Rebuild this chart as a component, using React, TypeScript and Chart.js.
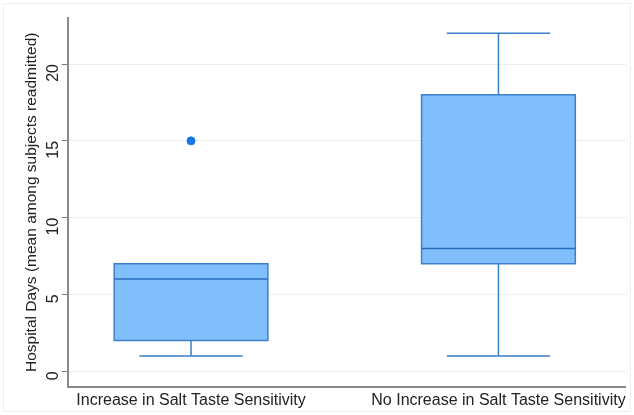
import React, { useEffect, useRef } from 'react';
import { Chart, registerables } from 'chart.js';

Chart.register(...registerables);

const categories = ['Increase in Salt Taste Sensitivity', 'No Increase in Salt Taste Sensitivity'];
const whiskerLow = [1, 1];
const q1 = [2, 7];
const median = [6, 8];
const q3 = [7, 18];
const whiskerHigh = [7, 22];
const outlierX = [0];
const outlierY = [15];
const yTicks = [0, 5, 10, 15, 20];

const BOX_HALF = 0.25;
const CAP_HALF = 0.168;

const boxPlugin = {
  id: 'boxes',
  beforeDatasetsDraw(chart: any) {
    const { ctx, scales } = chart;
    const xs = scales.x;
    const ys = scales.y;
    ctx.save();
    categories.forEach((_, i) => {
      const xc = xs.getPixelForValue(i);
      const xl = xs.getPixelForValue(i - BOX_HALF);
      const xr = xs.getPixelForValue(i + BOX_HALF);
      const cl = xs.getPixelForValue(i - CAP_HALF);
      const cr = xs.getPixelForValue(i + CAP_HALF);
      const yq1 = ys.getPixelForValue(q1[i]);
      const yq3 = ys.getPixelForValue(q3[i]);
      const ymed = ys.getPixelForValue(median[i]);
      const ylo = ys.getPixelForValue(whiskerLow[i]);
      const yhi = ys.getPixelForValue(whiskerHigh[i]);
      ctx.strokeStyle = 'rgb(58,126,200)';
      ctx.lineWidth = 1.5;
      ctx.beginPath();
      if (whiskerHigh[i] > q3[i]) {
        ctx.moveTo(xc, yq3);
        ctx.lineTo(xc, yhi);
        ctx.moveTo(cl, yhi);
        ctx.lineTo(cr, yhi);
      }
      if (whiskerLow[i] < q1[i]) {
        ctx.moveTo(xc, yq1);
        ctx.lineTo(xc, ylo);
        ctx.moveTo(cl, ylo);
        ctx.lineTo(cr, ylo);
      }
      ctx.stroke();
      ctx.fillStyle = 'rgb(128,190,252)';
      ctx.fillRect(xl, yq3, xr - xl, yq1 - yq3);
      ctx.strokeStyle = 'rgb(60,128,205)';
      ctx.lineWidth = 1.5;
      ctx.strokeRect(xl, yq3, xr - xl, yq1 - yq3);
      ctx.strokeStyle = 'rgb(40,110,190)';
      ctx.beginPath();
      ctx.moveTo(xl, ymed);
      ctx.lineTo(xr, ymed);
      ctx.stroke();
    });
    ctx.restore();
  },
};

export default function App() {
  const ref = useRef<HTMLCanvasElement>(null);
  useEffect(() => {
    if (!ref.current) return;
    const chart = new Chart(ref.current, {
      type: 'scatter',
      data: {
        datasets: [
          {
            data: outlierX.map((x, i) => ({ x, y: outlierY[i] })),
            backgroundColor: 'rgb(24,118,232)',
            borderColor: 'rgb(24,118,232)',
            pointRadius: 4,
          },
        ],
      },
      options: {
        animation: false,
        responsive: true,
        maintainAspectRatio: false,
        layout: { padding: { top: 18, right: 6, left: 31, bottom: 0 } },
        plugins: { legend: { display: false }, tooltip: { enabled: false } },
        scales: {
          x: {
            type: 'linear',
            min: -0.401,
            max: 1.414,
            afterBuildTicks: (s: any) => {
              s.ticks = categories.map((_, i) => ({ value: i }));
            },
            ticks: {
              callback: (v: any) => categories[v] ?? '',
              color: '#222',
              font: { family: 'Liberation Sans', size: 16, lineHeight: 0.9 },
              maxRotation: 0,
              minRotation: 0,
              autoSkip: false,
              padding: 7,
            },
            grid: { display: false, drawTicks: false },
            border: { display: true, color: '#8a8a8a', width: 2 },
          },
          y: {
            min: -1,
            max: 23,
            afterBuildTicks: (s: any) => {
              s.ticks = yTicks.map((v) => ({ value: v }));
            },
            ticks: {
              color: '#222',
              font: { family: 'Liberation Sans', size: 16 },
              minRotation: 90,
              maxRotation: 90,
              padding: 8,
            },
            grid: { color: '#eeeeee', tickColor: '#777', tickLength: 6, lineWidth: 1 },
            border: { display: true, color: '#8a8a8a', width: 2 },
            title: {
              display: true,
              text: 'Hospital Days (mean among subjects readmitted)',
              color: '#222',
              font: { family: 'Liberation Sans', size: 15.5, lineHeight: 0.1 },
              padding: { top: 0, bottom: -6 },
            },
          },
        },
      },
      plugins: [boxPlugin],
    });
    return () => chart.destroy();
  }, []);
  return (
    <div
      style={{
        position: 'fixed',
        left: 0,
        top: 0,
        width: 634,
        height: 415,
        background: '#fff',
      }}
    >
      <div
        style={{
          position: 'absolute',
          left: 3,
          top: 3,
          right: 3,
          bottom: 3,
          border: '1px solid #efefef',
        }}
      />
      <canvas ref={ref} style={{ position: 'relative' }} />
    </div>
  );
}
